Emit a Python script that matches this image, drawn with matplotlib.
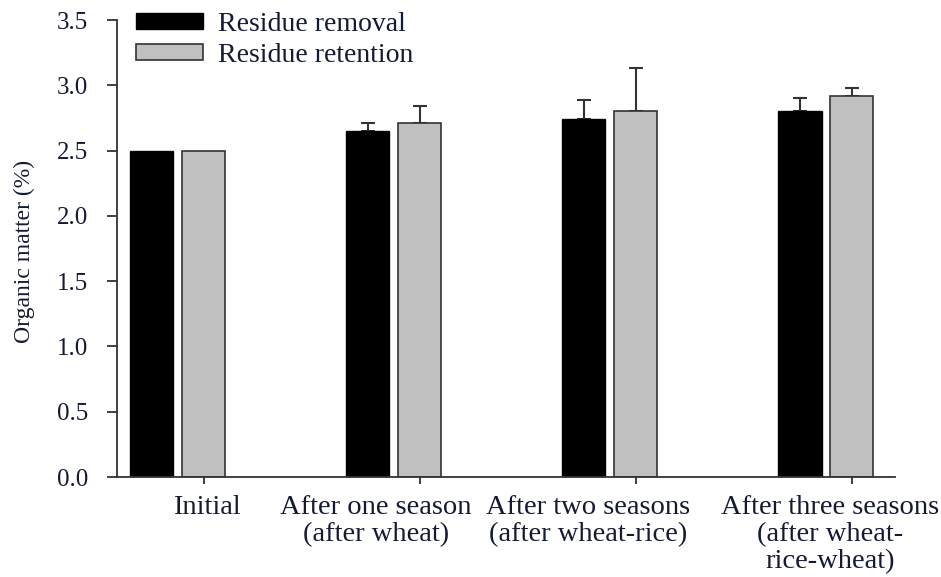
import matplotlib
matplotlib.use("Agg")
import matplotlib.pyplot as plt
import numpy as np

categories = ["Initial", "After one season\n(after wheat)", "After two seasons\n(after wheat-rice)",
              "After three seasons\n(after wheat-\nrice-wheat)"]
removal = [2.50, 2.65, 2.74, 2.80]
retention = [2.50, 2.71, 2.80, 2.915]
removal_err = [0.0, 0.06, 0.15, 0.10]
retention_err = [0.0, 0.13, 0.33, 0.065]
series_names = ["Residue removal", "Residue retention"]
yticks = [0.0, 0.5, 1.0, 1.5, 2.0, 2.5, 3.0, 3.5]
label_pos = [0.133, 0.918, 1.9, 3.02]

plt.rcParams['font.family'] = ['Liberation Serif', 'DejaVu Serif']
txt = '#141a33'
spine_c = '#333333'

fig = plt.figure(figsize=(9.41, 5.77), dpi=100)
ax = fig.add_axes([117/941, 1-477/577, (895-117)/941, (477-20)/577])

x = np.arange(len(categories))
w = 0.2
off = 0.12
ax.bar(x - off, removal, w, color='black', edgecolor='black', linewidth=1, label=series_names[0], zorder=2)
ax.bar(x + off, retention, w, color='#c0c0c0', edgecolor=spine_c, linewidth=1.2, label=series_names[1], zorder=2)

for xs, vals, errs in [(x - off, removal, removal_err), (x + off, retention, retention_err)]:
    xs_e = [xx for xx, e in zip(xs, errs) if e > 0]
    v_e = [v for v, e in zip(vals, errs) if e > 0]
    e_e = [e for e in errs if e > 0]
    ax.errorbar(xs_e, v_e, yerr=[np.zeros(len(e_e)), e_e], fmt='none', ecolor=spine_c,
                elinewidth=1.5, capsize=5, capthick=1.5, zorder=1)

ax.set_xlim(-0.281, 3.32)
ax.set_ylim(0, 3.5)
ax.set_yticks(yticks)
ax.set_yticklabels([f"{t:.1f}" for t in yticks])

ax.set_xticks(label_pos)
ax.set_xticklabels(categories, fontsize=20.5, color=txt, linespacing=1.1)
ax.set_xticks(x + off, minor=True)
ax.tick_params(axis='x', which='major', length=0, pad=13)
ax.tick_params(axis='x', which='minor', length=5, width=1.3, color=spine_c)
ax.tick_params(axis='y', which='major', length=7, width=1.3, color=spine_c, labelsize=18,
               labelcolor=txt, pad=14)

for s in ['top', 'right']:
    ax.spines[s].set_visible(False)
for s in ['left', 'bottom']:
    ax.spines[s].set_color(spine_c)
    ax.spines[s].set_linewidth(1.3)

ax.set_ylabel("Organic matter (%)", fontsize=17, color=txt)
ax.yaxis.label.set_va('center')
ax.yaxis.set_label_coords((24-117)/778, (477-251)/457)

leg = ax.legend(loc='upper left', bbox_to_anchor=((136-117)/778, 1.017), frameon=False,
                fontsize=20, handlelength=2.4, handleheight=0.5, handletextpad=0.55,
                borderpad=0, borderaxespad=0, labelspacing=0.21)
for t in leg.get_texts():
    t.set_color(txt)

fig.savefig("out.png", dpi=100)
